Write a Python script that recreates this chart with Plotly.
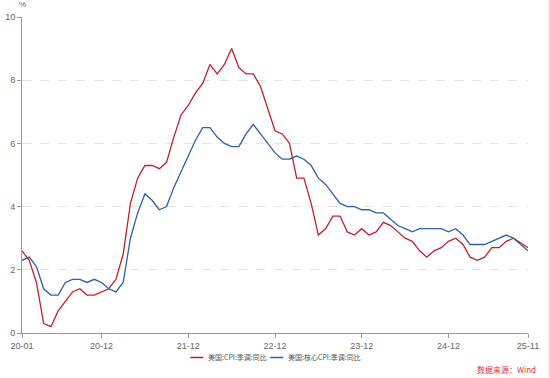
import pandas as pd
import plotly.graph_objects as go

months = [d.strftime("%y-%m") for d in pd.date_range("2020-01-01", "2025-11-01", freq="MS")]

cpi = [2.6, 2.3, 1.6, 0.3, 0.2, 0.7, 1.0, 1.3, 1.4, 1.2, 1.2, 1.3,
       1.4, 1.7, 2.5, 4.1, 4.9, 5.3, 5.3, 5.2, 5.4, 6.2, 6.9, 7.2,
       7.6, 7.9, 8.5, 8.2, 8.5, 9.0, 8.4, 8.2, 8.2, 7.8, 7.1, 6.4,
       6.3, 6.0, 4.9, 4.9, 4.1, 3.1, 3.3, 3.7, 3.7, 3.2, 3.1, 3.3,
       3.1, 3.2, 3.5, 3.4, 3.2, 3.0, 2.9, 2.6, 2.4, 2.6, 2.7, 2.9,
       3.0, 2.8, 2.4, 2.3, 2.4, 2.7, 2.7, 2.9, 3.0, None, 2.7]

core = [2.3, 2.4, 2.1, 1.4, 1.2, 1.2, 1.6, 1.7, 1.7, 1.6, 1.7, 1.6,
        1.4, 1.3, 1.6, 3.0, 3.8, 4.4, 4.2, 3.9, 4.0, 4.6, 5.1, 5.6,
        6.1, 6.5, 6.5, 6.2, 6.0, 5.9, 5.9, 6.3, 6.6, 6.3, 6.0, 5.7,
        5.5, 5.5, 5.6, 5.5, 5.3, 4.9, 4.7, 4.4, 4.1, 4.0, 4.0, 3.9,
        3.9, 3.8, 3.8, 3.6, 3.4, 3.3, 3.2, 3.3, 3.3, 3.3, 3.3, 3.2,
        3.3, 3.1, 2.8, 2.8, 2.8, 2.9, 3.0, 3.1, 3.0, None, 2.6]

tick_labels = ["20-01", "20-12", "21-12", "22-12", "23-12", "24-12", "25-11"]
series_names = ["美国:CPI:季调:同比", "美国:核心CPI:季调:同比"]
series_colors = ["#c0202f", "#2f5fa5"]

FONT = "Liberation Sans, Arial, Noto Sans CJK SC, sans-serif"
CJK = "Noto Sans CJK SC, Liberation Sans, sans-serif"

fig = go.Figure()
for name, vals, col in zip(series_names, [cpi, core], series_colors):
    fig.add_trace(go.Scatter(x=months, y=vals, mode="lines", name=name,
                             connectgaps=True, line=dict(color=col, width=1.3)))

# compact legend drawn as short line samples + text (as in the reference)
legend_y = -0.0775
legend_items = [(0.3327, 0.3583, 0.3643), (0.4906, 0.5163, 0.5222)]
shapes = []
annotations = []
for (x0, x1, xt), name, col in zip(legend_items, series_names, series_colors):
    shapes.append(dict(type="line", xref="paper", yref="paper", x0=x0, x1=x1,
                       y0=legend_y, y1=legend_y, line=dict(color=col, width=1.5)))
    annotations.append(dict(text=name, xref="paper", yref="paper", x=xt, y=legend_y,
                            xanchor="left", yanchor="middle", showarrow=False,
                            font=dict(family=CJK, size=7, color="#555")))

annotations += [
    dict(text="%", xref="paper", yref="paper", x=0, y=1.02, xanchor="center",
         yanchor="bottom", showarrow=False, font=dict(size=8, color="#666")),
    dict(text="数据来源：Wind", xref="paper", yref="paper", x=1.0197, y=-0.115,
         xanchor="right", yanchor="middle", showarrow=False,
         font=dict(family=CJK, size=8, color="#e0343c")),
]
shapes.append(dict(type="line", xref="paper", yref="paper", x0=1.0415, x1=1.0415,
                   y0=-0.141, y1=1.055, line=dict(color="#cccccc", width=1)))

fig.update_layout(
    width=550, height=378,
    margin=dict(l=21.5, r=22, t=17, b=44.5, autoexpand=False),
    paper_bgcolor="white", plot_bgcolor="white",
    font=dict(family=FONT, size=9, color="#666"),
    showlegend=False,
    xaxis=dict(type="category", range=[0, len(months) - 1], automargin=False,
               tickmode="array", tickvals=tick_labels, ticktext=tick_labels,
               showline=True, linecolor="#999", linewidth=1,
               ticks="outside", ticklen=4, tickcolor="#999",
               showgrid=False, zeroline=False,
               tickfont=dict(size=9, color="#666")),
    yaxis=dict(range=[0, 10], dtick=2, tick0=0, automargin=False,
               showline=True, linecolor="#999", linewidth=1,
               ticks="outside", ticklen=4, tickcolor="#999",
               showgrid=True, gridcolor="#e3e3e3", griddash="dash", gridwidth=1,
               zeroline=False, tickfont=dict(size=9, color="#666")),
    annotations=annotations,
    shapes=shapes,
)

fig.write_html("out.html", config={"displayModeBar": False},
               post_script="document.body.style.margin='0';document.body.style.overflow='hidden';")
